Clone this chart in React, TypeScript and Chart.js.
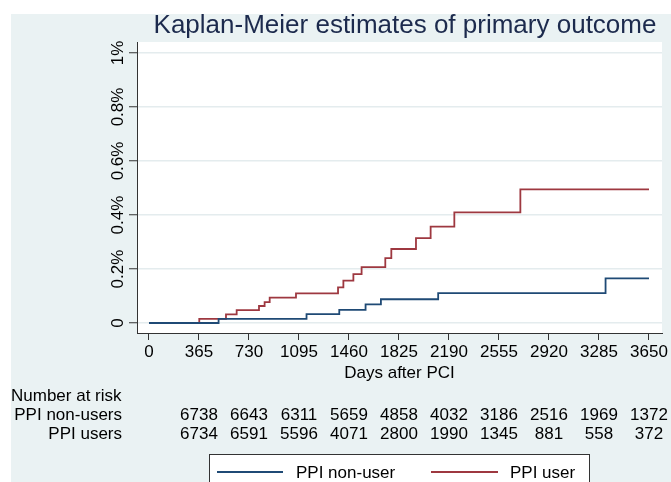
import React, { useEffect, useRef } from "react";
import { Chart, registerables } from "chart.js";

Chart.register(...registerables);

// ---------- data ----------
const xTickValues = [0, 365, 730, 1095, 1460, 1825, 2190, 2555, 2920, 3285, 3650];
const yTickValues = [0, 0.2, 0.4, 0.6, 0.8, 1];
const yTickLabels = ["0", "0.2%", "0.4%", "0.6%", "0.8%", "1%"];

const nonUserTimes = [0, 508, 1150, 1389, 1581, 1693, 2111, 3333, 3650];
const nonUserValues = [0, 0.015, 0.033, 0.049, 0.069, 0.088, 0.111, 0.165, 0.165];

const userTimes = [0, 367, 562, 640, 803, 844, 881, 1073, 1380, 1419, 1492, 1552, 1725, 1769, 1949, 2056, 2229, 2711, 3650];
const userValues = [0, 0.015, 0.032, 0.048, 0.063, 0.077, 0.094, 0.11, 0.132, 0.157, 0.181, 0.207, 0.24, 0.274, 0.314, 0.357, 0.41, 0.495, 0.495];

const riskTimes = [365, 730, 1095, 1460, 1825, 2190, 2555, 2920, 3285, 3650];
const riskNonUsers = [6738, 6643, 6311, 5659, 4858, 4032, 3186, 2516, 1969, 1372];
const riskUsers = [6734, 6591, 5596, 4071, 2800, 1990, 1345, 881, 558, 372];

const seriesNames = ["PPI non-user", "PPI user"];
const riskRowLabels = ["PPI non-users", "PPI users"];
const titleText = "Kaplan-Meier estimates of primary outcome";
const xTitleText = "Days after PCI";
const riskHeader = "Number at risk";

// ---------- styles ----------
const FONT = "'Liberation Sans', Arial, Helvetica, sans-serif";
const BG = "#eaf2f3";
const NAVY = "#1f4a75";
const MAROON = "#9e3840";
const AXIS = "#333333";
const TEXT = "#000000";

const decorPlugin = {
  id: "decor",
  beforeDraw(chart: any) {
    const { ctx, width, height, chartArea } = chart;
    ctx.save();
    ctx.fillStyle = "#ffffff";
    ctx.fillRect(0, 0, width, height);
    ctx.fillStyle = BG;
    ctx.fillRect(11, 14, width - 11, height - 14);
    ctx.fillStyle = "#ffffff";
    ctx.fillRect(chartArea.left, chartArea.top, chartArea.right - chartArea.left, chartArea.bottom - chartArea.top);
    ctx.restore();
  },
  afterDraw(chart: any) {
    const { ctx } = chart;
    const xs = chart.scales.x;
    const ys = chart.scales.y;
    ctx.save();
    // title
    ctx.fillStyle = "#1c2a4d";
    ctx.font = `26px ${FONT}`;
    ctx.textAlign = "center";
    ctx.textBaseline = "alphabetic";
    ctx.fillText(titleText, 405, 33);

    // y tick labels (rotated)
    ctx.fillStyle = TEXT;
    ctx.font = `17px ${FONT}`;
    yTickValues.forEach((v, i) => {
      const py = ys.getPixelForValue(v);
      ctx.save();
      ctx.translate(122.5, py);
      ctx.rotate(-Math.PI / 2);
      ctx.textAlign = "center";
      ctx.textBaseline = "alphabetic";
      ctx.fillText(yTickLabels[i], 0, 0);
      ctx.restore();
    });

    // x title
    ctx.textAlign = "center";
    ctx.textBaseline = "alphabetic";
    ctx.fillText(xTitleText, (xs.left + xs.right) / 2, 378);

    // risk table
    ctx.textAlign = "left";
    ctx.fillText(riskHeader, 11, 400.5);
    ctx.textAlign = "right";
    ctx.fillText(riskRowLabels[0], 122, 419.5);
    ctx.fillText(riskRowLabels[1], 122, 438.5);
    ctx.textAlign = "center";
    riskTimes.forEach((t, i) => {
      const px = xs.getPixelForValue(t);
      ctx.fillText(String(riskNonUsers[i]), px, 419.5);
      ctx.fillText(String(riskUsers[i]), px, 438.5);
    });

    // legend
    ctx.fillStyle = "#ffffff";
    ctx.fillRect(209.5, 454.5, 380, 40);
    ctx.strokeStyle = AXIS;
    ctx.lineWidth = 1;
    ctx.strokeRect(209.5, 454.5, 380, 40);
    ctx.lineWidth = 1.8;
    ctx.strokeStyle = NAVY;
    ctx.beginPath();
    ctx.moveTo(217, 472);
    ctx.lineTo(283, 472);
    ctx.stroke();
    ctx.strokeStyle = MAROON;
    ctx.beginPath();
    ctx.moveTo(431, 472);
    ctx.lineTo(498, 472);
    ctx.stroke();
    ctx.fillStyle = TEXT;
    ctx.textAlign = "left";
    ctx.fillText(seriesNames[0], 296, 477.5);
    ctx.fillText(seriesNames[1], 510, 477.5);
    ctx.restore();
  },
};

export default function App() {
  const ref = useRef<HTMLCanvasElement | null>(null);
  useEffect(() => {
    if (!ref.current) return;
    const chart = new Chart(ref.current, {
      type: "line",
      data: {
        datasets: [
          {
            label: seriesNames[0],
            data: nonUserTimes.map((t, i) => ({ x: t, y: nonUserValues[i] })),
            borderColor: NAVY,
            borderWidth: 1.8,
            pointRadius: 0,
            stepped: true,
            fill: false,
          },
          {
            label: seriesNames[1],
            data: userTimes.map((t, i) => ({ x: t, y: userValues[i] })),
            borderColor: MAROON,
            borderWidth: 1.8,
            pointRadius: 0,
            stepped: true,
            fill: false,
          },
        ],
      },
      options: {
        responsive: false,
        animation: false,
        devicePixelRatio: 1,
        layout: { padding: { left: 0, right: 9, top: 42, bottom: 0 } },
        plugins: {
          legend: { display: false },
          title: { display: false },
          tooltip: { enabled: false },
        },
        scales: {
          x: {
            type: "linear",
            min: -87.6,
            max: 3745,
            afterBuildTicks: (s: any) => {
              s.ticks = xTickValues.map((v) => ({ value: v }));
            },
            afterFit: (s: any) => {
              s.height = 149;
            },
            ticks: {
              autoSkip: false,
              maxRotation: 0,
              minRotation: 0,
              padding: 2,
              color: TEXT,
              font: { family: FONT, size: 17 },
              callback: (v: any) => String(v),
            },
            grid: {
              drawOnChartArea: false,
              drawTicks: true,
              tickLength: 7,
              tickColor: AXIS,
              tickWidth: 1,
            },
            border: { display: true, color: AXIS, width: 1 },
          },
          y: {
            type: "linear",
            min: -0.037,
            max: 1.0407,
            afterBuildTicks: (s: any) => {
              s.ticks = yTickValues.map((v) => ({ value: v }));
            },
            afterFit: (s: any) => {
              s.width = 137;
            },
            ticks: { display: false },
            grid: {
              color: "#e4ecee",
              lineWidth: 1.5,
              drawTicks: true,
              tickLength: 8,
              tickColor: AXIS,
              tickWidth: 1,
            },
            border: { display: true, color: AXIS, width: 1 },
          },
        },
      },
      plugins: [decorPlugin],
    } as any);
    return () => chart.destroy();
  }, []);
  return (
    <div style={{ position: "fixed", left: 0, top: 0, width: 671, height: 482 }}>
      <canvas ref={ref} width={671} height={482} style={{ display: "block", width: 671, height: 482 }} />
    </div>
  );
}
